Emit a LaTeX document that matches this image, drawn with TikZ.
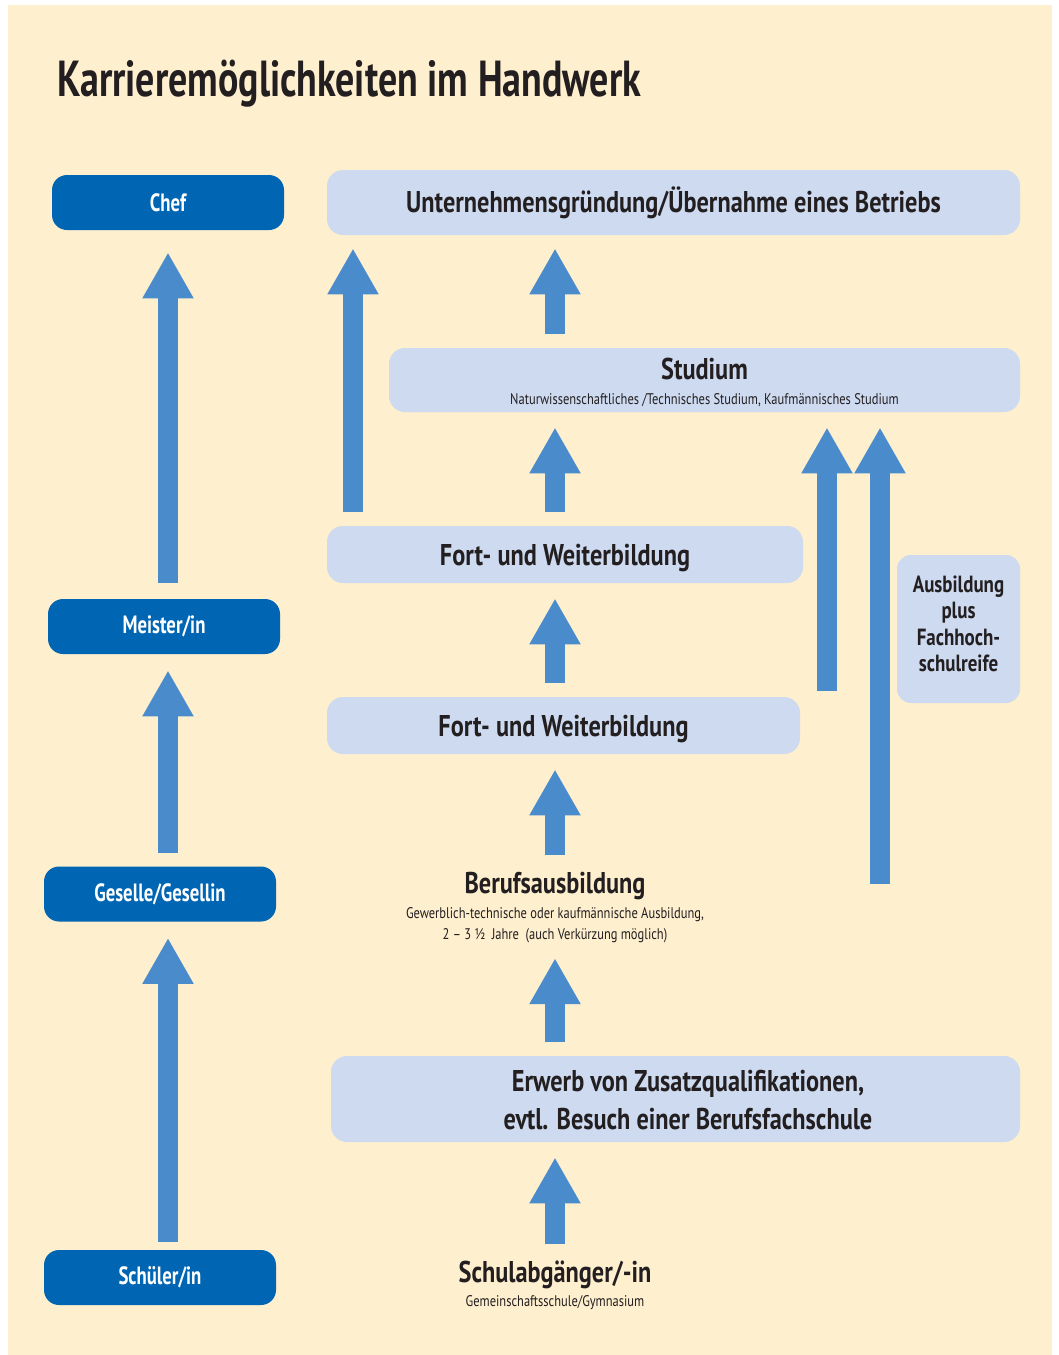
\documentclass[tikz,border=0pt]{standalone}
\usepackage{fontspec}
\setmainfont{PT Sans}[FakeStretch=0.75]
\newfontfamily\widefont{PT Sans}[FakeStretch=0.81]
\usetikzlibrary{arrows.meta}
\definecolor{cream}{RGB}{254,239,207}
\definecolor{darkblue}{RGB}{0,102,179}
\definecolor{lightblue}{RGB}{205,218,240}
\definecolor{arrowblue}{RGB}{74,140,203}
\definecolor{ink}{RGB}{35,31,32}

\begin{document}
\begin{tikzpicture}[x=0.5pt,y=-0.5pt]
    \tikzstyle{darkbox} = [rectangle, rounded corners=7.5pt, minimum width=116pt, minimum height=27.5pt, text centered, fill=darkblue, text=white, font=\fontsize{12.5}{15}\selectfont\bfseries]
    \tikzstyle{lightbox} = [rectangle, rounded corners=8pt, text centered, fill=lightblue, text=ink, font=\widefont\fontsize{15}{18}\selectfont\bfseries]
    \tikzstyle{heading} = [text=ink, inner sep=0pt, font=\widefont\fontsize{15}{18}\selectfont\bfseries]
    \tikzstyle{small} = [text=ink, inner sep=0pt, align=center, font=\widefont\fontsize{7.7}{10.5}\selectfont]
    \tikzstyle{flow} = [draw=arrowblue, line width=10pt, -{Triangle[width=24pt,length=23pt]}, shorten <=7pt, shorten >=7.5pt]

    % page and background
    \useasboundingbox (0,0) rectangle (1059,1355);
    \fill [white] (0,0) rectangle (1059,1355);
    \fill [cream] (8,5) rectangle (1052,1355);

    \node [anchor=base west, text=ink, inner sep=0pt, font=\fontsize{25.3}{30}\selectfont\bfseries] (title) at (57,96) {Karrieremöglichkeiten im Handwerk};

    % left column
    \node [darkbox] (chef) at (168,202.5) {Chef};
    \node [darkbox] (meister) at (164,626.5) {Meister/in};
    \node [darkbox] (geselle) at (160,894) {Geselle/Gesellin};
    \node [darkbox] (schueler) at (160,1277.5) {Schüler/in};

    % right part
    \node [lightbox, minimum width=346.5pt, minimum height=32.5pt] (gruendung) at (673.5,202.5) {Unternehmensgründung/Übernahme eines Betriebs};
    \node [lightbox, minimum width=315.5pt, minimum height=32pt] (studium) at (704.5,380) {};
    \node [heading, anchor=base] (studiumtitle) at (704.5,379) {Studium};
    \node [small, anchor=base] at (704.5,404) {Naturwissenschaftliches /Technisches Studium, Kaufmännisches Studium};
    \node [lightbox, minimum width=238pt, minimum height=28.5pt] (fort1) at (565,554.5) {};
    \node [heading, anchor=base] at (565,565) {Fort- und Weiterbildung};
    \node [lightbox, minimum width=236.5pt, minimum height=28.5pt] (fort2) at (563.5,725.5) {};
    \node [heading, anchor=base] at (563.5,736) {Fort- und Weiterbildung};
    \node [lightbox, minimum width=61.5pt, minimum height=74pt, rounded corners=7pt] (fhreife) at (958.5,629) {};
    \node [text=ink, align=center, inner sep=0pt, font=\widefont\fontsize{11.7}{13.2}\selectfont\bfseries] at (958.5,624) {Ausbildung\\plus\\Fachhoch-\\schulreife};
    \node [heading, anchor=base] (beruf) at (555,893) {Berufsausbildung};
    \node [small, anchor=north] (berufsub) at (555,907) {Gewerblich-technische oder kaufmännische Ausbildung,\\2 – 3 \textonehalf{}\ \ Jahre\ \ (auch Verkürzung möglich)};
    \node [lightbox, minimum width=344.5pt, minimum height=43pt] (erwerb) at (675.5,1099) {};
    \node [text=ink, align=center, inner sep=0pt, font=\widefont\fontsize{15}{18.7}\selectfont\bfseries] at (688,1100) {Erwerb von Zusatzqualifikationen,\\evtl. Besuch einer Berufsfachschule};
    \node [heading, anchor=base] (schulab) at (555,1282) {Schulabgänger/-in};
    \node [small, anchor=base] (schulabsub) at (555,1306) {Gemeinschaftsschule/Gymnasium};

    \coordinate (left) at (168,0);
    \coordinate (mid) at (555,0);
    \coordinate (bypass) at (353,0);
    \coordinate (studA) at (827,691);
    \coordinate (studB) at (880,884);

    % arrows
    \draw [flow, shorten <=8pt, shorten >=11pt] (meister.north -| left) -- (chef.south -| left);
    \draw [flow, shorten <=6.5pt, shorten >=8pt] (geselle.north -| left) -- (meister.south -| left);
    \draw [flow, shorten <=4pt, shorten >=8pt] (schueler.north -| left) -- (geselle.south -| left);
    \draw [flow, shorten >=6.5pt] (fort1.north -| bypass) -- (gruendung.south -| bypass);
    \draw [flow, shorten >=6.5pt] (studium.north -| mid) -- (gruendung.south -| mid);
    \draw [flow] (fort1.north -| mid) -- (studium.south -| mid);
    \draw [flow] (fort2.north -| mid) -- (fort1.south -| mid);
    \draw [flow, shorten <=8pt] (beruf.north -| mid) -- (fort2.south -| mid);
    \draw [flow] (erwerb.north -| mid) -- (berufsub.south -| mid);
    \draw [flow, shorten <=8pt] (schulab.north -| mid) -- (erwerb.south -| mid);
    \draw [flow, shorten <=0pt] (studA) -- (studium.south -| studA);
    \draw [flow, shorten <=0pt] (studB) -- (studium.south -| studB);
  \end{tikzpicture}
\end{document}
